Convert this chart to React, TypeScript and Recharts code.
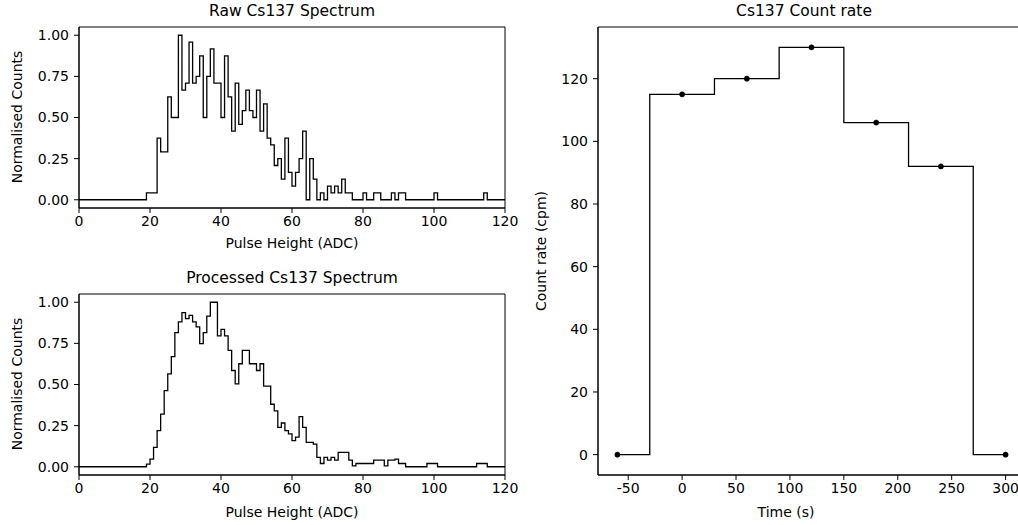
import React from "react";
import {
  LineChart,
  Line,
  XAxis,
  YAxis,
  ReferenceArea,
} from "recharts";

// raw spectrum: counts per 1-ADC bin, bins 0..119
const rawCounts = [
  0, 0, 0, 0, 0, 0, 0, 0, 0, 0, 0, 0, 0, 0, 0, 0, 0, 0, 0, 1,
  1, 1, 9, 7, 7, 15, 12, 12, 24, 16, 17, 23, 17, 18, 21, 12, 18, 22, 17, 17,
  12, 21, 15, 10, 17, 11, 13, 16, 13, 12, 16, 10, 14, 9, 8, 5, 6, 3, 9, 4,
  2, 4, 6, 10, 0, 6, 3, 0, 1, 0, 2, 1, 2, 1, 3, 1, 1, 0, 0, 0,
  1, 0, 0, 1, 1, 0, 0, 0, 1, 0, 1, 1, 0, 0, 0, 0, 0, 0, 0, 0,
  1, 0, 0, 0, 0, 0, 0, 0, 0, 0, 0, 0, 0, 0, 1, 0, 0, 0, 0, 0,
];

// processed spectrum, already normalised, bins 0..119
const processedCounts = [
  0, 0, 0, 0, 0, 0, 0, 0, 0, 0, 0, 0, 0, 0, 0, 0, 0, 0, 0, 0.016,
  0.047, 0.118, 0.22, 0.32, 0.463, 0.565, 0.67, 0.815, 0.88, 0.937, 0.9, 0.92, 0.88, 0.85, 0.748, 0.815, 0.916, 1.0, 1.0, 0.795,
  0.835, 0.795, 0.707, 0.585, 0.504, 0.626, 0.707, 0.707, 0.626, 0.626, 0.585, 0.626, 0.49, 0.49, 0.38, 0.34, 0.24, 0.266, 0.22, 0.2,
  0.159, 0.18, 0.305, 0.24, 0.148, 0.148, 0.138, 0.057, 0.02, 0.057, 0.04, 0.057, 0.04, 0.087, 0.087, 0.087, 0.04, 0.005, 0.02, 0.02,
  0.02, 0.02, 0.02, 0.04, 0.04, 0.04, 0.006, 0.04, 0.04, 0.047, 0.02, 0.02, 0, 0, 0, 0, 0, 0, 0.02, 0.02,
  0.02, 0, 0, 0, 0, 0, 0, 0, 0, 0, 0, 0, 0.02, 0.02, 0.02, 0, 0, 0, 0, 0,
];

const adcTicks = [0, 20, 40, 60, 80, 100, 120];
const normTicks = [0, 0.25, 0.5, 0.75, 1.0];

// count rate over time
const timeSec = [-60, 0, 60, 120, 180, 240, 300];
const rateCpm = [0, 115, 120, 130, 106, 92, 0];
const timeTicks = [-50, 0, 50, 100, 150, 200, 250, 300];
const rateTicks = [0, 20, 40, 60, 80, 100, 120];

const FONT = "DejaVu Sans";
const tickStyle = { fill: "#000", fontSize: 14, fontFamily: FONT };

const rawMax = Math.max(...rawCounts);
const rawData = rawCounts.map((c, i) => ({ x: i, y: c / rawMax }));
rawData.push({ x: rawCounts.length, y: rawCounts[rawCounts.length - 1] / rawMax });

const procData = processedCounts.map((c, i) => ({ x: i, y: c }));
procData.push({ x: processedCounts.length, y: processedCounts[processedCounts.length - 1] });

const rateData = timeSec.map((t, i) => ({ t, r: rateCpm[i] }));

function Text({ x, y, size, rotate, children }: any) {
  return (
    <div
      style={{
        position: "absolute",
        left: x,
        top: y,
        transform: `translate(-50%, -50%)${rotate ? " rotate(-90deg)" : ""}`,
        fontFamily: FONT,
        fontSize: size,
        color: "#000",
        whiteSpace: "nowrap",
        lineHeight: 1,
      }}
    >
      {children}
    </div>
  );
}

function Spectrum({ data, top }: { data: { x: number; y: number }[]; top: number }) {
  return (
    <div style={{ position: "absolute", left: 0, top }}>
      <LineChart width={520} height={235} data={data} margin={{ top: 27, right: 15, bottom: 0, left: 0 }}>
        <XAxis
          dataKey="x"
          type="number"
          domain={[0, 120]}
          ticks={adcTicks}
          allowDataOverflow
          height={27}
          tick={tickStyle}
          tickSize={5}
          tickMargin={3}
          axisLine={{ stroke: "#000" }}
          tickLine={{ stroke: "#000" }}
        />
        <YAxis
          type="number"
          domain={[-0.05, 1.05]}
          ticks={normTicks}
          allowDataOverflow
          width={79}
          tick={tickStyle}
          tickSize={5}
          tickMargin={5}
          tickFormatter={(v: number) => v.toFixed(2)}
          axisLine={{ stroke: "#000" }}
          tickLine={{ stroke: "#000" }}
        />
        <ReferenceArea x1={0} x2={120} y1={-0.05} y2={1.05} fill="none" stroke="#000" strokeWidth={1} />
        <Line
          type="stepAfter"
          dataKey="y"
          stroke="#000"
          strokeWidth={1.3}
          dot={false}
          isAnimationActive={false}
        />
      </LineChart>
    </div>
  );
}

export default function App() {
  return (
    <div
      style={{
        position: "absolute",
        left: 0,
        top: 0,
        width: 1018,
        height: 525,
        overflow: "hidden",
        background: "#fff",
      }}
    >
      <Spectrum data={rawData} top={0} />
      <Spectrum data={procData} top={267} />

      <div style={{ position: "absolute", left: 520, top: 0 }}>
        <LineChart width={530} height={502} data={rateData} margin={{ top: 27, right: 25, bottom: 0, left: 0 }}>
          <XAxis
            dataKey="t"
            type="number"
            domain={[-78, 318]}
            ticks={timeTicks}
            allowDataOverflow
            height={27}
            tick={tickStyle}
            tickSize={5}
            tickMargin={3}
            axisLine={{ stroke: "#000" }}
            tickLine={{ stroke: "#000" }}
          />
          <YAxis
            type="number"
            domain={[-6.5, 136.5]}
            ticks={rateTicks}
            allowDataOverflow
            width={78}
            tick={tickStyle}
            tickSize={5}
            tickMargin={5}
            axisLine={{ stroke: "#000" }}
            tickLine={{ stroke: "#000" }}
          />
          <ReferenceArea x1={-78} x2={318} y1={-6.5} y2={136.5} fill="none" stroke="#000" strokeWidth={1} />
          <Line
            type="step"
            dataKey="r"
            stroke="#000"
            strokeWidth={1.3}
            dot={{ r: 2.6, fill: "#000", stroke: "#000", strokeWidth: 0.5 }}
            isAnimationActive={false}
          />
        </LineChart>
      </div>

      <Text x={292} y={12} size={15.5}>Raw Cs137 Spectrum</Text>
      <Text x={292} y={243} size={14}>Pulse Height (ADC)</Text>
      <Text x={17} y={117} size={14} rotate>Normalised Counts</Text>

      <Text x={292} y={279} size={15.5}>Processed Cs137 Spectrum</Text>
      <Text x={292} y={512} size={14}>Pulse Height (ADC)</Text>
      <Text x={17} y={384} size={14} rotate>Normalised Counts</Text>

      <Text x={804} y={12} size={15.5}>Cs137 Count rate</Text>
      <Text x={786} y={512} size={14}>Time (s)</Text>
      <Text x={541} y={251} size={14} rotate>Count rate (cpm)</Text>
    </div>
  );
}
